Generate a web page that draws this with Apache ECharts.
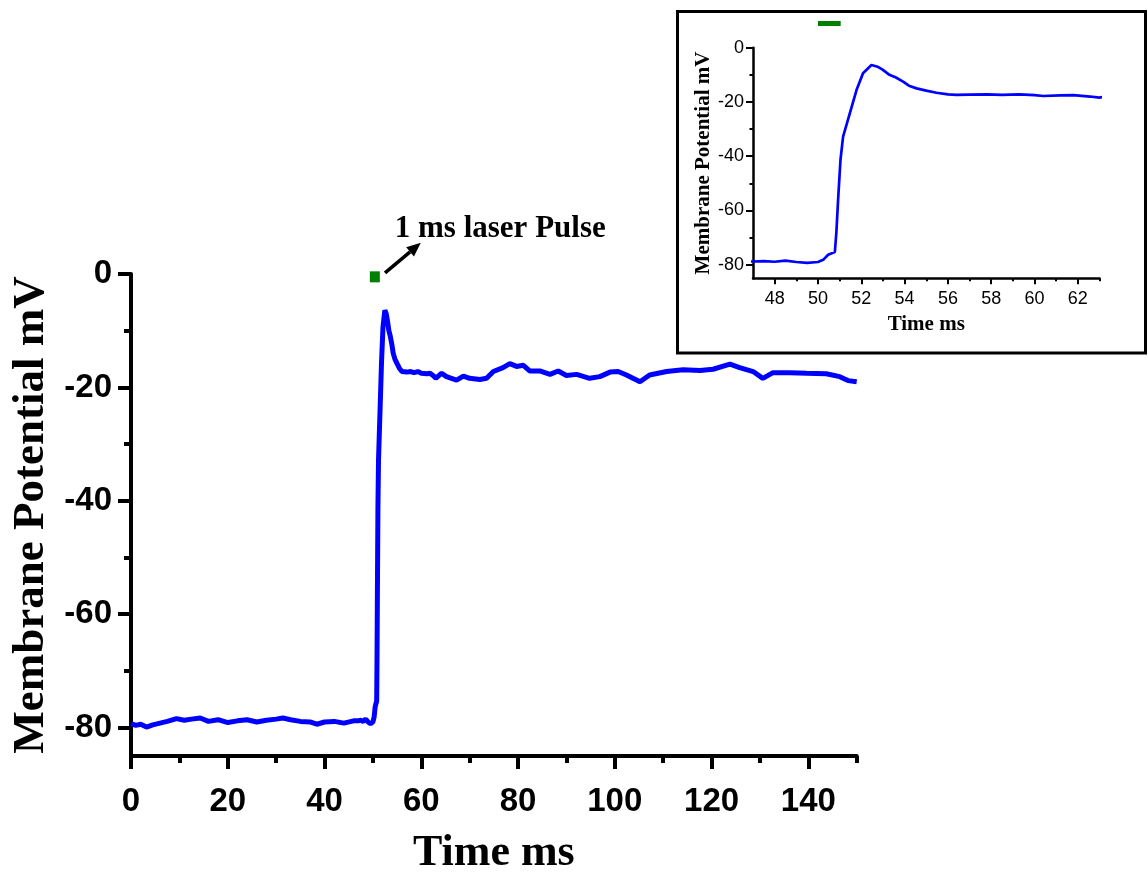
<!DOCTYPE html>
<html>
<head>
<meta charset="utf-8">
<script src="https://cdn.jsdelivr.net/npm/echarts@6/dist/echarts.min.js"></script>
<style>
html,body{margin:0;padding:0;background:#fff;}
#chart{width:1148px;height:873px;}
</style>
</head>
<body>
<div id="chart"></div>
<script>
// ---- data ----
const time = [0,1,2,3.2,4.5,6,7.5,9.4,11,12.5,14.3,16,18,20,22,24,26,28,30,31.4,33,35,37,38.4,40,42,44,46,
  47,47.5,48,48.5,49,49.5,50,50.24,50.47,50.78,50.85,50.93,51.04,51.16,51.47,51.78,52.08,52.47,52.75,53.0,53.3,53.6,53.93,54.2,54.55,55.0,55.47,56.0,56.4,57.0,57.8,58.5,59.3,60.0,60.4,61.2,61.8,62.56,63.0,
  63.2,64.2,65.2,67.3,68.7,70,72.1,73.5,74.9,76.9,78.3,79.7,81.1,82.4,84.5,86.6,88.3,90,92.1,94.8,96.9,99,100.7,102.4,105.2,107.2,110.7,114.1,117.6,120.3,123.8,125.8,128.6,130.6,132.7,136.2,139.6,143.7,146.5,148.2,150];
const voltage = [-79.3,-79.6,-79.4,-79.9,-79.5,-79.2,-78.9,-78.4,-78.7,-78.5,-78.3,-78.9,-78.6,-79.1,-78.8,-78.6,-79.0,-78.7,-78.5,-78.3,-78.6,-78.9,-79.0,-79.4,-79.0,-78.9,-79.2,-78.8,
  -78.8,-78.7,-78.9,-78.5,-79.0,-79.3,-79.0,-78.2,-76.3,-75.3,-68,-56,-41.3,-32.8,-24.2,-15.6,-9.4,-6.4,-7.0,-8.2,-10.0,-11.0,-12.5,-14.0,-15.0,-15.8,-16.6,-17.2,-17.4,-17.3,-17.2,-17.4,-17.2,-17.5,-17.8,-17.6,-17.5,-18.0,-18.4,
  -18.1,-17.5,-18.1,-18.7,-18.0,-18.4,-18.6,-18.4,-17.2,-16.5,-15.8,-16.3,-16.1,-17.1,-17.1,-17.7,-17.1,-17.9,-17.7,-18.4,-18.1,-17.3,-17.2,-17.8,-19.0,-17.8,-17.2,-16.9,-17.0,-16.8,-15.9,-16.5,-17.2,-18.4,-17.4,-17.4,-17.5,-17.6,-18.1,-18.8,-19.0];

const mainXLabels = [0,20,40,60,80,100,120,140];
const mainXMinor = [10,30,50,70,90,110,130,150];
const mainYLabels = [0,-20,-40,-60,-80];
const mainYMinor = [-10,-30,-50,-70];
const insetXLabels = [48,50,52,54,56,58,60,62];
const insetXMinor = [49,51,53,55,57,59,61,63];
const insetYLabels = [0,-20,-40,-60,-80];
const insetYMinor = [-10,-30,-50,-70];

const pulseMain = [[50.4,-0.5]];
const pulseInset = [[50.0,8.9],[51.05,8.9]];
const arrowFrom = [52.5,0.2];
const arrowTo = [59.9,5.5];
const annotation = '1 ms laser Pulse';

const series = time.map((t,i)=>[t,voltage[i]]);

const SERIF = '"Liberation Serif","Times New Roman",serif';
const SANS = '"Liberation Sans",Arial,sans-serif';

function xAxisDef(grid, min, max, labels, big){
  return {
    type:'value', gridIndex:grid, min:min, max:max, position:'bottom',
    axisLine:{show:true,onZero:false,lineStyle:{color:'#000',width:big?4:2.5}},
    axisTick:{show:true,customValues:labels,length:big?13:6,inside:false,lineStyle:{color:'#000',width:big?4:2}},
    axisLabel:{show:true,customValues:labels,margin:big?29:12,color:'#000',
      fontFamily:SANS,fontWeight:big?'bold':'normal',fontSize:big?33:18},
    splitLine:{show:false}
  };
}
function xMinorDef(grid,min,max,vals,big){
  return {
    type:'value', gridIndex:grid, min:min, max:max, position:'bottom',
    axisLine:{show:false,onZero:false},
    axisTick:{show:true,customValues:vals,length:big?7:3,lineStyle:{color:'#000',width:big?4:2}},
    axisLabel:{show:false,customValues:vals},
    splitLine:{show:false}
  };
}
function yAxisDef(grid,min,max,labels,big){
  return {
    type:'value', gridIndex:grid, min:min, max:max, position:'left',
    axisLine:{show:true,onZero:false,lineStyle:{color:'#000',width:big?4:2.5}},
    axisTick:{show:true,customValues:labels,length:big?13:7,lineStyle:{color:'#000',width:big?4:2}},
    axisLabel:{show:true,customValues:labels,margin:big?19:9,color:'#000',
      fontFamily:SANS,fontWeight:big?'bold':'normal',fontSize:big?33:18},
    splitLine:{show:false}
  };
}
function yMinorDef(grid,min,max,vals,big){
  return {
    type:'value', gridIndex:grid, min:min, max:max, position:'left',
    axisLine:{show:false,onZero:false},
    axisTick:{show:true,customValues:vals,length:big?7:3.5,lineStyle:{color:'#000',width:big?4:2}},
    axisLabel:{show:false,customValues:vals},
    splitLine:{show:false}
  };
}

const mainX = xAxisDef(0,0,150,mainXLabels,true);
mainX.name='Time ms'; mainX.nameLocation='middle'; mainX.nameGap=76;
mainX.nameTextStyle={fontFamily:SERIF,fontWeight:'bold',fontSize:44,color:'#000'};
const mainY = yAxisDef(0,-85,0,mainYLabels,true);
mainY.name='Membrane Potential mV'; mainY.nameLocation='middle'; mainY.nameGap=76;
mainY.nameTextStyle={fontFamily:SERIF,fontWeight:'bold',fontSize:45,color:'#000'};

const insX = xAxisDef(1,47,63,insetXLabels,false);
insX.name='Time ms'; insX.nameLocation='middle'; insX.nameGap=36;
insX.nameTextStyle={fontFamily:SERIF,fontWeight:'bold',fontSize:21,color:'#000'};
const insY = yAxisDef(1,-85,0,insetYLabels,false);
insY.name='Membrane Potential mV'; insY.nameLocation='middle'; insY.nameGap=38;
insY.nameTextStyle={fontFamily:SERIF,fontWeight:'bold',fontSize:21,color:'#000'};

const chart = echarts.init(document.getElementById('chart'),null,{renderer:'canvas'});
chart.setOption({
  animation:false,
  backgroundColor:'#fff',
  grid:[
    {left:131,top:274,width:725.7,height:482,containLabel:false,outerBoundsMode:'none'},
    {left:753,top:47.7,width:346.5,height:230.6,containLabel:false,outerBoundsMode:'none'}
  ],
  xAxis:[mainX, xMinorDef(0,0,150,mainXMinor,true), insX, xMinorDef(1,47,63,insetXMinor,false)],
  yAxis:[mainY, yMinorDef(0,-85,0,mainYMinor,true), insY, yMinorDef(1,-85,0,insetYMinor,false)],
  series:[
    {type:'line',xAxisIndex:0,yAxisIndex:0,data:series,showSymbol:false,symbol:'none',
      lineStyle:{color:'#0000ff',width:5},itemStyle:{color:'#0000ff'},z:3},
    {type:'line',xAxisIndex:2,yAxisIndex:2,data:series,showSymbol:false,symbol:'none',
      lineStyle:{color:'#0000ff',width:2.7},itemStyle:{color:'#0000ff'},z:3},
    {type:'scatter',xAxisIndex:0,yAxisIndex:0,data:pulseMain,symbol:'rect',symbolSize:[10,11],
      itemStyle:{color:'#008000',opacity:1},clip:false,z:4},
    {type:'line',xAxisIndex:2,yAxisIndex:2,data:pulseInset,showSymbol:false,symbol:'none',
      lineStyle:{color:'#008000',width:5,cap:'butt'},clip:false,z:4}
  ]
});

// annotation arrow & text placed through the main grid's scales
const p0 = chart.convertToPixel({xAxisIndex:0,yAxisIndex:0},arrowFrom);
const p1 = chart.convertToPixel({xAxisIndex:0,yAxisIndex:0},arrowTo);
const dx=p1[0]-p0[0], dy=p1[1]-p0[1], L=Math.sqrt(dx*dx+dy*dy);
const ux=dx/L, uy=dy/L, hl=14, hw=6;
const base=[p1[0]-ux*hl,p1[1]-uy*hl];
const head=[[p1[0],p1[1]],[base[0]-uy*hw,base[1]+ux*hw],[base[0]+uy*hw,base[1]-ux*hw]];
chart.setOption({
  graphic:[
    {type:'rect',shape:{x:677.5,y:11.5,width:468,height:341.5},
      style:{fill:null,stroke:'#000',lineWidth:3},z:10},
    {type:'line',shape:{x1:p0[0],y1:p0[1],x2:base[0],y2:base[1]},
      style:{stroke:'#000',lineWidth:3.5},z:10},
    {type:'polygon',shape:{points:head},style:{fill:'#000'},z:10},
    {type:'text',x:p1[0]-26,y:p1[1]-14,
      style:{text:annotation,fontFamily:SERIF,fontWeight:'bold',fontSize:31,fill:'#000',
        textAlign:'left',textVerticalAlign:'middle',verticalAlign:'middle'},z:10}
  ]
});
</script>
</body>
</html>
